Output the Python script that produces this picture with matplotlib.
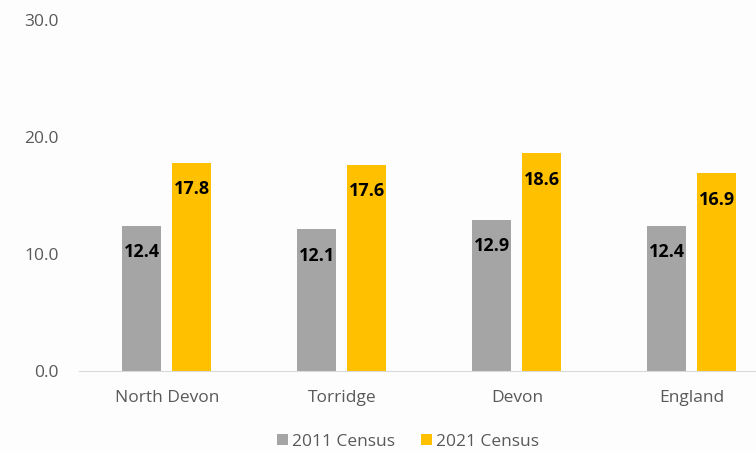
import numpy as np
from matplotlib import pyplot as plt

# datos
areas = ['North Devon', 'Torridge', 'Devon', 'England']
censo_2011 = [12.4, 12.1, 12.9, 12.4]
censo_2021 = [17.8, 17.6, 18.6, 16.9]
ticks_y = [0.0, 10.0, 20.0, 30.0]

gris = '#A5A5A5'
oro = '#FFC000'
txt = '#595959'

plt.rcParams['font.family'] = ['Open Sans', 'DejaVu Sans']

fig = plt.figure(figsize=(7.56, 4.53), dpi=100, facecolor='#FDFDFD')
ax = fig.add_axes([0.105, 0.181, 0.926, 0.775])
ax.set_facecolor('#FDFDFD')

x = np.arange(len(areas))
w = 0.223
off = 0.143
b1 = ax.bar(x - off, censo_2011, w, color=gris, label='2011 Census')
b2 = ax.bar(x + off, censo_2021, w, color=oro, label='2021 Census')

for barras in (b1, b2):
    for b in barras:
        h = b.get_height()
        ax.annotate('%.1f' % h, (b.get_x() + b.get_width() / 2, h),
                    xytext=(0, -19), textcoords='offset points',
                    ha='center', va='center', fontsize=13,
                    fontweight='bold', color='black')

ax.set_xlim(-0.5, len(areas) - 0.5)
ax.set_ylim(0, 30)
ax.set_yticks(ticks_y)
ax.set_yticklabels(['%.1f' % t for t in ticks_y])
ax.set_xticks(x)
ax.set_xticklabels(areas)
ax.tick_params(axis='both', length=0, colors=txt, labelsize=12.5)
ax.tick_params(axis='y', pad=15)
ax.tick_params(axis='x', pad=14)
for s in ['top', 'right', 'left']:
    ax.spines[s].set_visible(False)
ax.spines['bottom'].set_color('#D9D9D9')

leg = fig.legend(loc='center', bbox_to_anchor=(0.54, 0.025), ncol=2,
                 frameon=False, fontsize=12.5, handlelength=0.6,
                 handleheight=0.6, handletextpad=0.25, columnspacing=1.5)
for t in leg.get_texts():
    t.set_color(txt)

plt.savefig('out.png', dpi=100, facecolor=fig.get_facecolor())
